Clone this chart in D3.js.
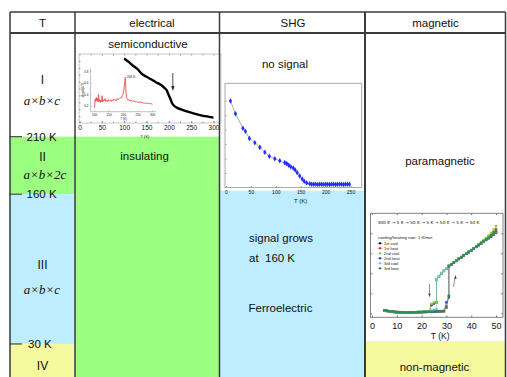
<!DOCTYPE html>
<html><head><meta charset="utf-8">
<script src="https://cdn.jsdelivr.net/npm/d3@7"></script>
<style>
body{margin:0;background:#fff}
svg{display:block}
text{font-family:"Liberation Sans",Arial,sans-serif;fill:#111}
</style>
</head><body>
<svg id="c" width="507" height="377"></svg>
<script>
// ================= DATA =================
const headers = ["T", "electrical", "SHG", "magnetic"];
const phaseNames = ["I", "II", "III", "IV"];
const cellFormulas = ["a×b×c", "a×b×2c", "a×b×c"];
const transitionTemps = [210, 160, 30];
const transitionLabels = ["210 K", "160 K", "30 K"];
const elecTexts = ["semiconductive", "insulating"];
const shgTexts = ["no signal", "signal grows", "at\u00a0 160 K", "Ferroelectric"];
const magTexts = ["paramagnetic", "non-magnetic"];

// electrical: resistivity (arb. units) vs T
const elecT   = [100,110,120,130,140,150,160,170,180,190,195,200,204,207,212,220,230,240,255,270,285,300];
const elecRho = [9.35,8.85,8.3,7.8,7.1,6.7,6.35,5.95,5.6,5.1,4.75,4.0,3.4,2.9,2.5,2.15,1.9,1.68,1.4,1.15,0.95,0.78];
const elecTicks = [0,50,100,150,200,250,300];
const elecArrowT = 209;

// inner red inset
const redT = [100,102,104,106,108,110,112,114,116,118,120,122,124,126,128,130,133,136,139,142,145,148,151,154,157,160,163,166,169,172,175,178,181,184,187,190,193,196,198,200,202,204,205,206,207,208,210,212,215,218,222,226,230,235,240,245,250,255,260,265,270,275,280,285,290,295,300];
const redV = [0.17,0.32,0.28,0.35,0.29,0.33,0.27,0.40,0.28,0.31,0.26,0.30,0.28,0.38,0.27,0.31,0.29,0.33,0.28,0.30,0.27,0.31,0.29,0.30,0.28,0.31,0.29,0.32,0.30,0.31,0.29,0.33,0.31,0.32,0.33,0.35,0.34,0.38,0.40,0.45,0.52,0.62,0.68,0.70,0.60,0.45,0.36,0.33,0.30,0.31,0.29,0.30,0.28,0.29,0.27,0.28,0.26,0.27,0.26,0.26,0.25,0.25,0.24,0.25,0.24,0.24,0.23];
const redTicks = [100,150,200,250,300];
const redYTicks = [0.2,0.4,0.6,0.8];

// SHG intensity vs T
const shgT = [9,19,34,39,47,58,68,78,87,98,108,118,122,126,130,135,139,143,148,153,157,162,168,172,176,180,184,188,192,196,200,204,208,212,216,220,224,228,232,236,240,244,248];
const shgI = [5.99,5.11,4.10,3.89,3.40,3.10,2.78,2.44,2.16,1.99,1.85,1.72,1.65,1.54,1.44,1.35,1.21,1.02,0.80,0.59,0.43,0.31,0.26,0.23,0.22,0.22,0.21,0.22,0.22,0.21,0.22,0.22,0.21,0.22,0.22,0.21,0.22,0.22,0.22,0.21,0.22,0.22,0.22];
const shgTicks = [0,50,100,150,200,250];

// magnetic: signal vs T for cooling/heating runs
const magTicks = [0,10,20,30,40,50];
const coolT = [50,49,48,47,46,45,44,43,42,41,40,39,38,37,36,35,34,33,32,31,30,29,28,27,26,26,25,24,23,22,21,20,19,18,17,16,15,14,13,12,11,10,9,8,7,6,5];
const heatT = [5,6,7,8,9,10,11,12,13,14,15,16,17,18,19,20,21,22,23,24,25,26,27,28,29,30,31,31,32,33,34,35,36,37,38,39,40,41,42,43,44,45,46,47,48,49,50];
const cool1 = [4.02,3.93,3.84,3.76,3.67,3.58,3.50,3.41,3.32,3.23,3.14,3.06,2.98,2.90,2.80,2.72,2.62,2.53,2.45,2.35,2.23,2.12,2.00,1.85,1.67,0.55,0.50,0.42,0.08,0.07,0.07,0.06,0.06,0.05,0.05,0.05,0.04,0.04,0.04,0.05,0.05,0.06,0.07,0.08,0.10,0.12,0.14];
const cool2 = [4.36,4.18,4.02,3.89,3.77,3.66,3.56,3.45,3.35,3.25,3.15,3.07,2.99,2.90,2.81,2.72,2.63,2.54,2.45,2.36,2.24,2.12,2.01,1.86,1.68,0.57,0.54,0.47,0.09,0.08,0.07,0.06,0.06,0.06,0.05,0.05,0.05,0.04,0.05,0.05,0.06,0.06,0.07,0.08,0.10,0.12,0.15];
const cool3 = [4.06,3.96,3.87,3.78,3.69,3.60,3.51,3.42,3.33,3.24,3.15,3.07,2.99,2.91,2.81,2.73,2.63,2.54,2.46,2.36,2.24,2.13,2.01,1.86,1.67,0.22,0.18,0.14,0.10,0.08,0.07,0.07,0.06,0.06,0.05,0.05,0.05,0.04,0.04,0.05,0.05,0.06,0.07,0.08,0.10,0.12,0.14];
const heat1 = [0.14,0.12,0.10,0.08,0.07,0.06,0.05,0.05,0.04,0.04,0.04,0.05,0.05,0.05,0.06,0.06,0.07,0.07,0.08,0.08,0.09,0.09,0.10,0.10,0.11,0.28,0.88,2.37,2.46,2.54,2.63,2.73,2.81,2.91,2.99,3.08,3.16,3.25,3.34,3.43,3.53,3.62,3.72,3.82,3.93,4.05,4.20];
const heat2 = [0.14,0.12,0.10,0.08,0.07,0.06,0.05,0.05,0.04,0.04,0.04,0.05,0.05,0.05,0.06,0.06,0.07,0.07,0.08,0.08,0.09,0.09,0.10,0.10,0.11,0.55,0.80,2.36,2.45,2.53,2.62,2.72,2.80,2.90,2.98,3.06,3.14,3.23,3.32,3.41,3.50,3.58,3.67,3.76,3.85,3.95,4.05];
const heat3 = [0.15,0.13,0.11,0.09,0.07,0.06,0.06,0.05,0.05,0.04,0.05,0.05,0.05,0.06,0.06,0.06,0.07,0.07,0.08,0.08,0.09,0.10,0.10,0.11,0.11,0.35,0.86,2.37,2.45,2.54,2.63,2.72,2.81,2.90,2.99,3.07,3.15,3.24,3.33,3.42,3.51,3.60,3.69,3.78,3.88,3.98,4.10];
const magLegend = ["1st cool","1st heat","2nd cool","2nd heat","3rd cool","3rd heat"];
const magProtocol = "300 K \u2192 5 K \u2192 50 K \u2192 5 K \u2192 50 K \u2192 5 K \u2192 50 K";
const magRate = "cooling/heating rate: 1 K/min";

// ================= DRAW =================
const svg = d3.select("#c");
svg.append("rect").attr("width",507).attr("height",377).attr("fill","#fff");

const GREEN="#9bff80", BLUE="#bdedff", YELLOW="#f5fa9f";
const colX = [10, 75, 219.5, 365, 505.5];
const headTop = 12, headBot = 33;
// temperature column: linear scale 300 K (top) -> 0 K (bottom)
const yT = d3.scaleLinear().domain([300, 0]).range([headBot, 378.5]);

// background bands
const bands = [
  [colX[0], colX[1], yT(transitionTemps[0]), yT(transitionTemps[1]), GREEN],
  [colX[0], colX[1], yT(transitionTemps[1]), yT(transitionTemps[2]), BLUE],
  [colX[0], colX[1], yT(transitionTemps[2]), 377, YELLOW],
  [colX[1], colX[2], yT(transitionTemps[0]), 377, GREEN],
  [colX[2], colX[3], yT(transitionTemps[1]) - 3.5, 377, BLUE],
  [colX[3], colX[4], yT(transitionTemps[2]) - 3, 377, YELLOW]
];
svg.selectAll("rect.band").data(bands).enter().append("rect")
  .attr("x", d => d[0]).attr("y", d => d[2]).attr("width", d => d[1]-d[0]).attr("height", d => d[3]-d[2])
  .attr("fill", d => d[4]);

// headers
const colCenters = [42.5, 152, 293, 435.5];
svg.selectAll("text.hd").data(headers).enter().append("text")
  .attr("x", (d,i) => colCenters[i]).attr("y", 23).attr("dy","0.35em")
  .attr("text-anchor","middle").attr("font-size", 11.5).text(d => d);

// phase labels in T column
const phaseY = [80, 156.5, 265, 366];
svg.selectAll("text.ph").data(phaseNames).enter().append("text")
  .attr("x", 42.5).attr("y", (d,i) => phaseY[i]).attr("dy","0.35em")
  .attr("text-anchor","middle").attr("font-size", 12).text(d => d);
const formY = [100, 174.5, 289];
svg.selectAll("text.fm").data(cellFormulas).enter().append("text")
  .attr("x", (d,i) => i===1 ? 45 : 42).attr("y", (d,i) => formY[i]).attr("dy","0.35em")
  .attr("text-anchor","middle").attr("font-size", 13)
  .style("font-family","'Liberation Serif','Times New Roman',serif").style("font-style","italic")
  .text(d => d);

// transition ticks and labels
svg.selectAll("line.tt").data(transitionTemps).enter().append("line")
  .attr("x1", 9.5).attr("x2", 22).attr("y1", d => yT(d)).attr("y2", d => yT(d))
  .attr("stroke","#555").attr("stroke-width",1.3);
svg.selectAll("text.tl").data(transitionLabels).enter().append("text")
  .attr("x", (d,i) => i===2 ? 28 : 26.5).attr("y", (d,i) => yT(transitionTemps[i])).attr("dy","0.35em")
  .attr("font-size", 11.5).text(d => d);

// column texts
function label(t, x, y, anchor) {
  svg.append("text").attr("x", x).attr("y", y).attr("dy","0.35em")
    .attr("text-anchor", anchor || "middle").attr("font-size", 11.5).text(t);
}
label(elecTexts[0], 148, 43.5);
label(elecTexts[1], 144.5, 155.5);
label(shgTexts[0], 285, 63.5);
label(shgTexts[1], 249, 237.5, "start");
label(shgTexts[2], 249, 258, "start");
label(shgTexts[3], 248.5, 307.5, "start");
label(magTexts[0], 440, 161);
label(magTexts[1], 434.5, 367);

// ---------- electrical inset ----------
const eg = svg.append("g");
const xE = d3.scaleLinear().domain([0,300]).range([79.5,213.5]);
const yE = d3.scaleLinear().domain([0,10]).range([123,54]);
eg.append("rect").attr("x",79).attr("y",54).attr("width",142).attr("height",69)
  .attr("fill","#fff").attr("stroke","#bbb").attr("stroke-width",0.8);
const eAxB = eg.append("g").attr("transform","translate(0,123)")
  .call(d3.axisBottom(xE).tickValues(elecTicks).tickSize(-2).tickPadding(2.5).tickFormat(d3.format("d")));
eAxB.select(".domain").remove();
eAxB.selectAll("line").attr("stroke","#888");
eAxB.selectAll("text").attr("font-size",6.5).style("font-family","'Liberation Sans',Arial,sans-serif").attr("fill","#222");
const eMinor = eg.append("g").attr("transform","translate(0,54)")
  .call(d3.axisTop(xE).tickValues(d3.range(0,301,25)).tickSize(-1.5).tickFormat(""));
eMinor.select(".domain").remove(); eMinor.selectAll("line").attr("stroke","#999");
const eMinorB = eg.append("g").attr("transform","translate(0,123)")
  .call(d3.axisBottom(xE).tickValues(d3.range(0,301,25)).tickSize(-1.5).tickFormat(""));
eMinorB.select(".domain").remove(); eMinorB.selectAll("line").attr("stroke","#999");
const eY = eg.append("g").attr("transform","translate(79,0)")
  .call(d3.axisLeft(yE).tickValues(d3.range(1,10)).tickSize(-1.5).tickFormat(""));
eY.select(".domain").remove(); eY.selectAll("line").attr("stroke","#999");
eg.append("text").attr("x",145).attr("y",137).attr("dy","0.35em").attr("text-anchor","middle")
  .attr("font-size",4).text("T (K)");

// red inner inset
const xR = d3.scaleLinear().domain([86,310]).range([90.5,155.5]);
const yR = d3.scaleLinear().domain([0.1,0.85]).range([111.7,68.8]);
eg.append("line").attr("x1",90.5).attr("x2",90.5).attr("y1",68.5).attr("y2",111.7).attr("stroke","#999").attr("stroke-width",0.6);
eg.append("line").attr("x1",90.5).attr("x2",156).attr("y1",111.7).attr("y2",111.7).attr("stroke","#999").attr("stroke-width",0.6);
eg.selectAll("text.rx").data(redTicks).enter().append("text")
  .attr("x", d => xR(d)).attr("y",115).attr("dy","0.35em").attr("text-anchor","middle")
  .attr("font-size",3).text(d => d);
eg.selectAll("line.rxt").data(redTicks).enter().append("line")
  .attr("x1", d => xR(d)).attr("x2", d => xR(d)).attr("y1",111.7).attr("y2",110.5).attr("stroke","#999").attr("stroke-width",0.5);
eg.selectAll("text.ry").data(redYTicks).enter().append("text")
  .attr("x",88.5).attr("y", d => yR(d)).attr("dy","0.35em").attr("text-anchor","end")
  .attr("font-size",3).text(d => d.toFixed(1));
eg.selectAll("line.ryt").data(redYTicks).enter().append("line")
  .attr("x1",90.5).attr("x2",91.8).attr("y1", d => yR(d)).attr("y2", d => yR(d)).attr("stroke","#999").attr("stroke-width",0.5);
eg.append("text").attr("transform","translate(83.5,90) rotate(-90)").attr("text-anchor","middle")
  .attr("font-size",3).text("dlnρ/d(1/T)");
eg.append("text").attr("x",xR(200)).attr("y",118.5).attr("dy","0.35em").attr("text-anchor","middle")
  .attr("font-size",3).text("T (K)");
eg.append("path").datum(redT.map((t,i)=>[t,redV[i]]))
  .attr("d", d3.line().x(d=>xR(d[0])).y(d=>yR(d[1])))
  .attr("fill","none").attr("stroke","#f03a3a").attr("stroke-width",0.8);
eg.append("text").attr("x",127).attr("y",77).attr("dy","0.35em").attr("font-size",3.2).text("206 K");

// main black curve
eg.append("path").datum(elecT.map((t,i)=>[t,elecRho[i]]))
  .attr("d", d3.line().curve(d3.curveMonotoneX).x(d=>xE(d[0])).y(d=>yE(d[1])))
  .attr("fill","none").attr("stroke","#000").attr("stroke-width",2.4);
// arrow
const ax = xE(elecArrowT);
eg.append("line").attr("x1",ax).attr("x2",ax).attr("y1",73).attr("y2",88).attr("stroke","#222").attr("stroke-width",0.8);
eg.append("path").attr("d",`M${ax-1.6},86 L${ax+1.6},86 L${ax},91 Z`).attr("fill","#222");

// ---------- SHG inset ----------
const sg = svg.append("g");
const xS = d3.scaleLinear().domain([-2,272.5]).range([225,361.7]);
const yS = d3.scaleLinear().domain([0,7.2]).range([187.5,83.5]);
sg.append("rect").attr("x",225).attr("y",83.3).attr("width",136.7).attr("height",104.2)
  .attr("fill","#fff").attr("stroke","#aaa").attr("stroke-width",1);
const sAx = sg.append("g").attr("transform","translate(0,187.5)")
  .call(d3.axisBottom(xS).tickValues(shgTicks).tickSize(-1.5).tickPadding(2.8).tickFormat(d3.format("d")));
sAx.select(".domain").remove(); sAx.selectAll("line").attr("stroke","#999");
sAx.selectAll("text").attr("font-size",5).style("font-family","'Liberation Sans',Arial,sans-serif").attr("fill","#222");
const sY = sg.append("g").attr("transform","translate(225,0)")
  .call(d3.axisLeft(yS).tickValues([1,2,3,4,5,6]).tickSize(-1.5).tickFormat(""));
sY.select(".domain").remove(); sY.selectAll("line").attr("stroke","#999");
sg.append("text").attr("x",xS(150)).attr("y",200.5).attr("dy","0.35em").attr("text-anchor","middle")
  .attr("font-size",6).text("T (K)");
sg.append("path").datum(shgT.map((t,i)=>[t,shgI[i]]))
  .attr("d", d3.line().x(d=>xS(d[0])).y(d=>yS(d[1])))
  .attr("fill","none").attr("stroke","#888").attr("stroke-width",0.7);
sg.selectAll("path.pt").data(shgT.map((t,i)=>[t,shgI[i]])).enter().append("path")
  .attr("d", d3.symbol(d3.symbolDiamond, 9))
  .attr("transform", d => `translate(${xS(d[0])},${yS(d[1])})`)
  .attr("fill","#1f2cff");

// ---------- magnetic inset ----------
const mg = svg.append("g");
const xM = d3.scaleLinear().domain([0,50]).range([372,496]);
const yM = d3.scaleLinear().domain([0,4]).range([313.3,233.3]);
const mx0 = 370.5, mx1 = 503, my0 = 213.3, my1 = 317.3;
mg.append("rect").attr("x",mx0).attr("y",my0).attr("width",mx1-mx0).attr("height",my1-my0)
  .attr("fill","#fff").attr("stroke","#777").attr("stroke-width",0.9);
const mAx = mg.append("g").attr("transform",`translate(0,${my1})`)
  .call(d3.axisBottom(xM).tickValues(magTicks).tickSize(-1.8).tickPadding(5).tickFormat(d3.format("d")));
mAx.select(".domain").remove(); mAx.selectAll("line").attr("stroke","#777");
mAx.selectAll("text").attr("font-size",9).style("font-family","'Liberation Sans',Arial,sans-serif").attr("fill","#111");
const mTop = mg.append("g").attr("transform",`translate(0,${my0})`)
  .call(d3.axisTop(xM).tickValues(magTicks).tickSize(-1.8).tickFormat(""));
mTop.select(".domain").remove(); mTop.selectAll("line").attr("stroke","#777");
const mL = mg.append("g").attr("transform",`translate(${mx0},0)`)
  .call(d3.axisLeft(yM).tickValues([0,1,2,3,4]).tickSize(-1.8).tickFormat(""));
mL.select(".domain").remove(); mL.selectAll("line").attr("stroke","#777");
const mR = mg.append("g").attr("transform",`translate(${mx1},0)`)
  .call(d3.axisRight(yM).tickValues([0,1,2,3,4]).tickSize(-1.8).tickFormat(""));
mR.select(".domain").remove(); mR.selectAll("line").attr("stroke","#777");
mg.append("text").attr("x",xM(27.5)).attr("y",336).attr("dy","0.35em").attr("text-anchor","middle")
  .attr("font-size",8.5).text("T (K)");
mg.append("text").attr("x",377.5).attr("y",222.5).attr("dy","0.35em").attr("font-size",4.2)
  .style("font-family","'DejaVu Sans',sans-serif").attr("textLength",102).attr("lengthAdjust","spacingAndGlyphs")
  .text(magProtocol);
mg.append("text").attr("x",378).attr("y",237.3).attr("dy","0.35em").attr("font-size",4.3).text(magRate);

const magColors = ["#111","#e82a2a","#8dc63f","#2a3fd8","#6fc8d8","#2e8b45"];
const magSeries = [
  [coolT, cool1], [heatT, heat1], [coolT, cool2], [heatT, heat2], [coolT, cool3], [heatT, heat3]
];
magSeries.forEach((s, k) => {
  const pts = s[0].map((t,i)=>[t, s[1][i]]);
  mg.append("path").datum(pts)
    .attr("d", d3.line().x(d=>xM(d[0])).y(d=>yM(d[1])))
    .attr("fill","none").attr("stroke", magColors[k]).attr("stroke-width",0.6).attr("stroke-opacity",0.8);
  mg.selectAll(null).data(pts).enter().append("rect")
    .attr("x", d => xM(d[0]) - 1.2).attr("y", d => yM(d[1]) - 1.2)
    .attr("width",2.4).attr("height",2.4).attr("fill", magColors[k]);
});
// legend
magLegend.forEach((name, i) => {
  const y = 243.3 + i*5;
  mg.append("line").attr("x1",377.5).attr("x2",382.5).attr("y1",y).attr("y2",y).attr("stroke",magColors[i]).attr("stroke-width",0.5);
  mg.append("rect").attr("x",379).attr("y",y-1).attr("width",2).attr("height",2).attr("fill",magColors[i]);
  mg.append("text").attr("x",384).attr("y",y).attr("dy","0.35em").attr("font-size",4).text(name);
});
// arrows
mg.append("line").attr("x1",429.5).attr("x2",429.5).attr("y1",284).attr("y2",294.5).attr("stroke","#444").attr("stroke-width",0.6);
mg.append("path").attr("d","M428.3,293.5 L430.7,293.5 L429.5,297.5 Z").attr("fill","#444");
mg.append("line").attr("x1",453.5).attr("x2",455.1).attr("y1",287).attr("y2",277.5).attr("stroke","#444").attr("stroke-width",0.6);
mg.append("path").attr("d","M454.2,278.5 L456.6,278.9 L455.6,275 Z").attr("fill","#444");

// ---------- table lines ----------
const L = "#3a3a3a";
svg.append("line").attr("x1",colX[0]).attr("x2",colX[4]).attr("y1",headTop).attr("y2",headTop).attr("stroke",L).attr("stroke-width",1.5);
svg.append("line").attr("x1",colX[0]).attr("x2",colX[4]).attr("y1",headBot).attr("y2",headBot).attr("stroke",L).attr("stroke-width",2);
colX.forEach((x,i) => {
  svg.append("line").attr("x1",x).attr("x2",x).attr("y1",headTop).attr("y2",377)
    .attr("stroke", L).attr("stroke-width", i===3 ? 2 : 1.5);
});
</script>
</body></html>
